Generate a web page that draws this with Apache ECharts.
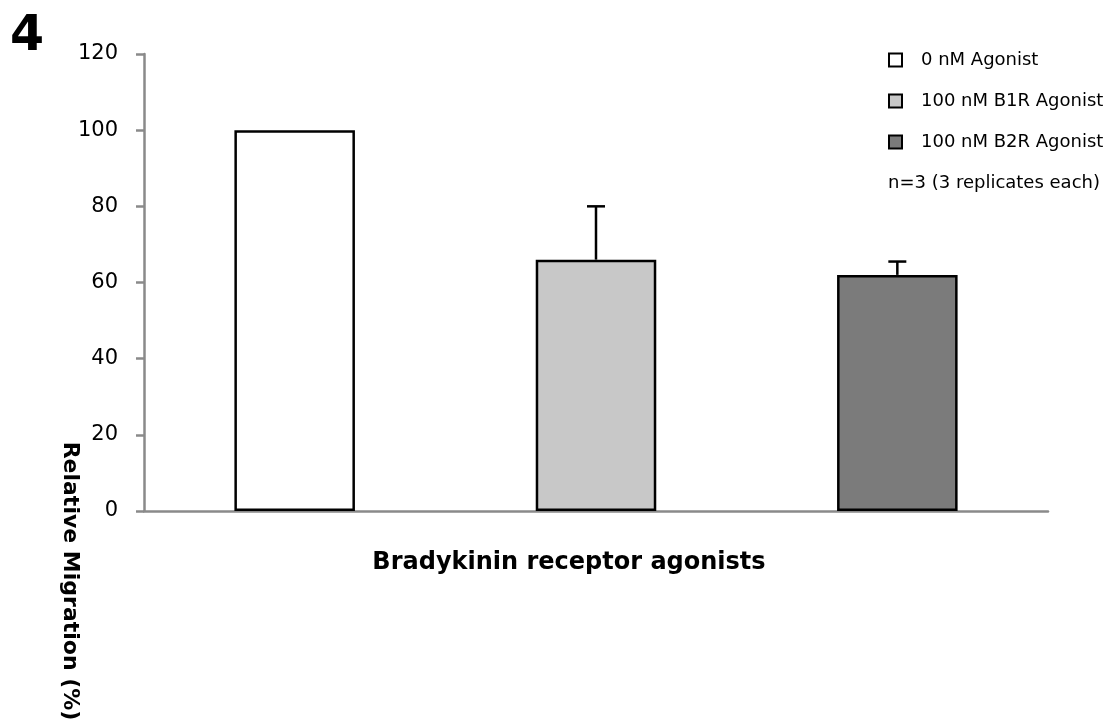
<!DOCTYPE html>
<html>
<head>
<meta charset="utf-8">
<script src="https://cdn.jsdelivr.net/npm/echarts@6/dist/echarts.min.js"></script>
<style>
html,body{margin:0;padding:0;background:#fff;}
#chart{width:1110px;height:722px;}
</style>
</head>
<body>
<div id="chart"></div>
<script>
var categories = ['0 nM Agonist', '100 nM B1R Agonist', '100 nM B2R Agonist'];
var values = [100, 66, 62];
var errors = [0, 14, 3.5];
var colors = ['#ffffff', '#c8c8c8', '#7b7b7b'];
var yTicks = [0, 20, 40, 60, 80, 100, 120];

var FONT = "'DejaVu Sans', sans-serif";

var barSeries = categories.map(function (name, i) {
  var d = categories.map(function (c, j) { return j === i ? values[i] : null; });
  return {
    name: name,
    type: 'bar',
    stack: 'all',
    barWidth: '40%',
    data: d,
    itemStyle: { color: colors[i], borderColor: '#000', borderWidth: 2.5 },
    emphasis: { disabled: true },
    silent: true
  };
});

var errSeries = {
  type: 'custom',
  silent: true,
  z: 5,
  data: values.map(function (v, i) { return [i, v, v + errors[i]]; }),
  renderItem: function (params, api) {
    if (api.value(2) <= api.value(1)) return null;
    var lo = api.coord([api.value(0), api.value(1)]);
    var hi = api.coord([api.value(0), api.value(2)]);
    var hw = 9;
    var st = { stroke: '#000', lineWidth: 2.5 };
    return {
      type: 'group',
      children: [
        { type: 'line', shape: { x1: lo[0], y1: lo[1], x2: hi[0], y2: hi[1] }, style: st },
        { type: 'line', shape: { x1: hi[0] - hw, y1: hi[1], x2: hi[0] + hw, y2: hi[1] }, style: st }
      ]
    };
  }
};

var chart = echarts.init(document.getElementById('chart'));
chart.setOption({
  animation: false,
  backgroundColor: '#fff',
  grid: { left: 144, right: 62, top: 54, bottom: 211, containLabel: false },
  legend: {
    orient: 'vertical',
    left: 883,
    top: 46,
    itemWidth: 13,
    itemHeight: 13,
    itemGap: 23,
    icon: 'rect',
    data: categories,
    textStyle: { fontFamily: FONT, fontSize: 18, lineHeight: 13, color: '#000', padding: [0, 0, 0, 14] },
    selectedMode: false
  },
  xAxis: {
    type: 'category',
    data: categories,
    axisLine: { lineStyle: { color: '#8a8a8a', width: 2.5 } },
    axisTick: { show: false },
    axisLabel: { show: false },
    splitLine: { show: false }
  },
  yAxis: {
    type: 'value',
    min: yTicks[0],
    max: yTicks[yTicks.length - 1],
    interval: yTicks[1] - yTicks[0],
    axisLine: { show: true, lineStyle: { color: '#8a8a8a', width: 2.5 } },
    axisTick: { show: true, length: 8, lineStyle: { color: '#8a8a8a', width: 2.5 } },
    axisLabel: { margin: 26, color: '#000', fontFamily: FONT, fontSize: 21 },
    splitLine: { show: false }
  },
  graphic: [
    {
      type: 'text', x: 10, y: 13,
      style: { text: '4', font: "bold 49px 'DejaVu Sans', sans-serif", fill: '#000' }
    },
    {
      type: 'text', x: 569, y: 563,
      style: { text: 'Bradykinin receptor agonists', font: 'bold 24px ' + FONT, fill: '#000', textAlign: 'center', textVerticalAlign: 'middle' }
    },
    {
      type: 'text', x: 70, y: 581, rotation: -Math.PI / 2,
      style: { text: 'Relative Migration (%)', font: 'bold 22px ' + FONT, fill: '#000', textAlign: 'center', textVerticalAlign: 'middle' }
    },
    {
      type: 'text', x: 994, y: 183,
      style: { text: 'n=3 (3 replicates each)', font: '18px ' + FONT, fill: '#000', textAlign: 'center', textVerticalAlign: 'middle' }
    }
  ],
  series: barSeries.concat([errSeries])
});
</script>
</body>
</html>
